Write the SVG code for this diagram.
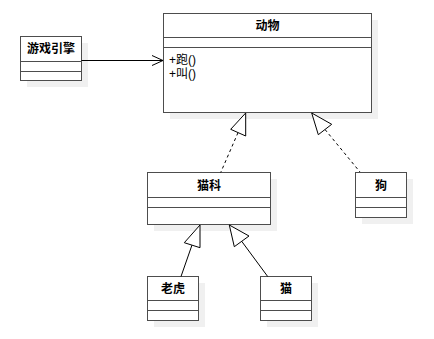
<svg xmlns="http://www.w3.org/2000/svg" width="434" height="339" viewBox="0 0 434 339">
<style>
.sh{fill:#f0f0f0;stroke:none}
.box{fill:#fff;stroke:#4d4d4d;stroke-width:1}
.sep{stroke:#4d4d4d;stroke-width:1}
.t{font-family:"Liberation Sans","Noto Sans CJK SC",sans-serif;font-size:12px;font-weight:bold;fill:#000;text-anchor:middle}
.m{font-family:"Liberation Sans","Noto Sans CJK SC",sans-serif;font-size:12px;fill:#000}
.ln{fill:none;stroke:#000;stroke-width:1}
.dash{fill:none;stroke:#000;stroke-width:1;stroke-dasharray:3,3}
.tri{fill:#fff;stroke:#000;stroke-width:1}
</style>
<rect width="434" height="339" fill="#fff"/>
<g id="node-engine">
<rect class="sh" x="27" y="43" width="61" height="44"/>
<rect class="box" x="20.5" y="36.5" width="61" height="44"/>
<line class="sep" x1="20.5" y1="61.5" x2="81.5" y2="61.5"/>
<line class="sep" x1="20.5" y1="71.5" x2="81.5" y2="71.5"/>
<text class="t" x="51" y="53">游戏引擎</text>
</g>
<g id="node-animal">
<rect class="sh" x="170" y="20" width="208" height="99"/>
<rect class="box" x="163.5" y="13.5" width="208" height="99"/>
<line class="sep" x1="163.5" y1="37.5" x2="371.5" y2="37.5"/>
<line class="sep" x1="163.5" y1="47.5" x2="371.5" y2="47.5"/>
<text class="t" x="267.5" y="30">动物</text>
<text class="m" x="169" y="64">+跑()</text>
<text class="m" x="169" y="78">+叫()</text>
</g>
<g id="node-feline">
<rect class="sh" x="154" y="179" width="123" height="52"/>
<rect class="box" x="147.5" y="172.5" width="123" height="52"/>
<line class="sep" x1="147.5" y1="197.5" x2="270.5" y2="197.5"/>
<line class="sep" x1="147.5" y1="207.5" x2="270.5" y2="207.5"/>
<text class="t" x="209" y="190">猫科</text>
</g>
<g id="node-dog">
<rect class="sh" x="362" y="179" width="51" height="45"/>
<rect class="box" x="355.5" y="172.5" width="51" height="45"/>
<line class="sep" x1="355.5" y1="197.5" x2="406.5" y2="197.5"/>
<line class="sep" x1="355.5" y1="207.5" x2="406.5" y2="207.5"/>
<text class="t" x="381" y="190">狗</text>
</g>
<g id="node-tiger">
<rect class="sh" x="154" y="283" width="51" height="44"/>
<rect class="box" x="147.5" y="276.5" width="51" height="44"/>
<line class="sep" x1="147.5" y1="300.5" x2="198.5" y2="300.5"/>
<line class="sep" x1="147.5" y1="310.5" x2="198.5" y2="310.5"/>
<text class="t" x="173" y="293">老虎</text>
</g>
<g id="node-cat">
<rect class="sh" x="267" y="283" width="51" height="44"/>
<rect class="box" x="260.5" y="276.5" width="51" height="44"/>
<line class="sep" x1="260.5" y1="300.5" x2="311.5" y2="300.5"/>
<line class="sep" x1="260.5" y1="310.5" x2="311.5" y2="310.5"/>
<text class="t" x="286" y="293">猫</text>
</g>
<g id="connectors">
<line class="ln" x1="81.5" y1="60.5" x2="163" y2="60.5"/>
<polyline class="ln" points="152,55.5 163,60.5 152,65.5"/>
<line class="dash" x1="238" y1="132.7" x2="220.7" y2="172.5"/>
<polygon class="tri" points="245.7,113 230.7,129.3 245.7,136"/>
<line class="dash" x1="325" y1="129.5" x2="360" y2="172"/>
<polygon class="tri" points="311.7,113 318.3,134.7 331.7,124.3"/>
<line class="ln" x1="192" y1="245" x2="181" y2="276.5"/>
<polygon class="tri" points="200,225 184.3,242.7 200,247.7"/>
<line class="ln" x1="241.7" y1="241.3" x2="267.7" y2="276.5"/>
<polygon class="tri" points="229.3,225 234.3,246.7 249,236"/>
</g>
</svg>
